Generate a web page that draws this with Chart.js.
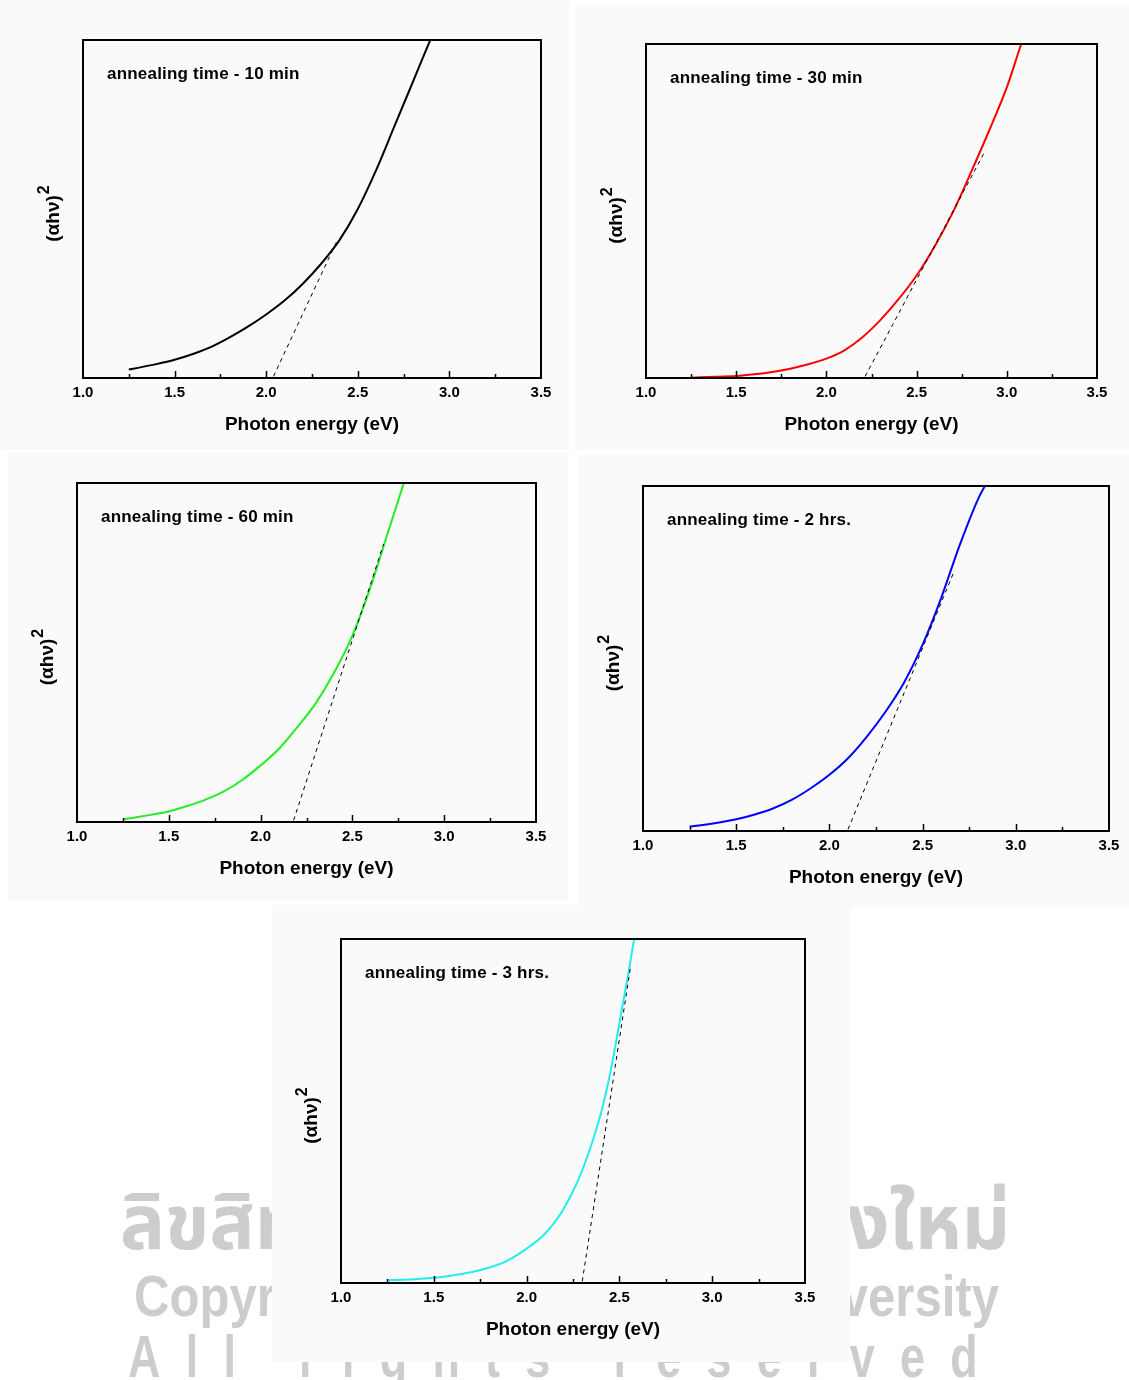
<!DOCTYPE html>
<html>
<head>
<meta charset="utf-8">
<script src="https://cdn.jsdelivr.net/npm/chart.js@4.4.1/dist/chart.umd.min.js"></script>
<style>
  body { margin: 0; background: #fff; }
  #page { position: relative; width: 1129px; height: 1380px; overflow: hidden; font-family: "Liberation Sans", Arial, sans-serif; }
  .wm { position: absolute; color: #cdcdcd; font-weight: bold; white-space: nowrap; transform-origin: 0 0; }
  .bg { position: absolute; background: #fafafa; }
  canvas { position: absolute; }
</style>
</head>
<body>
<div id="page">
  <div class="wm" id="wmThai" style="left:120px;top:1168px;font-size:76px;font-family:'Noto Sans Thai','Noto Sans',sans-serif;">ลิขสิทธิ์มหาวิทยาลัยเชียงใหม่</div>
  <div class="wm" id="wmCopy" style="left:134px;top:1262px;font-size:58px;">Copyright© by Chiang Mai University</div>
  <div class="wm" id="wmAll" style="left:128px;top:1322px;font-size:60px;letter-spacing:34px;">All rights reserved</div>
</div>

<script>
// tick labels of the energy axis
const energyTicks = [1.0, 1.5, 2.0, 2.5, 3.0, 3.5];

// annealing 10 min
const energy10 = [1.25, 1.3, 1.4, 1.5, 1.6, 1.7, 1.8, 1.9, 2.0, 2.1, 2.2, 2.3, 2.4, 2.5, 2.6, 2.7, 2.8, 2.9, 2.93];
const tauc10   = [2.5, 3.0, 4.1, 5.4, 7.1, 9.2, 12.0, 15.2, 18.8, 22.9, 27.9, 33.8, 40.8, 50.0, 61.5, 74.5, 87.5, 100.5, 104];
const fitEnergy10 = [2.04, 2.39];
const fitTauc10   = [0.5, 41];

// annealing 30 min
const energy30 = [1.25, 1.3, 1.4, 1.5, 1.6, 1.7, 1.8, 1.9, 2.0, 2.1, 2.2, 2.3, 2.4, 2.5, 2.6, 2.7, 2.8, 2.9, 3.0, 3.08, 3.1];
const tauc30   = [0.1, 0.2, 0.4, 0.6, 1.1, 1.8, 2.8, 4.1, 5.8, 8.3, 12.2, 17.4, 23.6, 30.7, 39.4, 49.5, 61.4, 73.8, 87, 100, 103];
const fitEnergy30 = [2.215, 2.88];
const fitTauc30   = [0.5, 68];

// annealing 60 min
const energy60 = [1.25, 1.3, 1.4, 1.5, 1.6, 1.7, 1.8, 1.9, 2.0, 2.1, 2.2, 2.3, 2.4, 2.5, 2.6, 2.7, 2.78, 2.8];
const tauc60   = [0.8, 1.2, 2.1, 3.1, 4.7, 6.6, 9.0, 12.4, 16.7, 21.6, 28.0, 35.0, 44.0, 55.0, 69.5, 86.5, 100, 103.5];
const fitEnergy60 = [2.18, 2.67];
const fitTauc60   = [0.5, 82];

// annealing 2 hrs
const energy2h = [1.25, 1.3, 1.4, 1.5, 1.6, 1.7, 1.8, 1.9, 2.0, 2.1, 2.2, 2.3, 2.4, 2.5, 2.6, 2.7, 2.8, 2.85];
const tauc2h   = [1.3, 1.6, 2.4, 3.4, 4.8, 6.6, 9.1, 12.4, 16.3, 21.1, 27.3, 34.5, 43.0, 54.0, 67.6, 83.0, 96.5, 101.5];
const fitEnergy2h = [2.10, 2.667];
const fitTauc2h   = [0.5, 75];

// annealing 3 hrs
const energy3h = [1.25, 1.3, 1.4, 1.5, 1.6, 1.7, 1.8, 1.9, 2.0, 2.1, 2.2, 2.3, 2.4, 2.45, 2.5, 2.55, 2.58, 2.6];
const tauc3h   = [0.8, 0.9, 1.1, 1.5, 2.2, 3.1, 4.5, 6.6, 10.0, 14.4, 21.6, 32.8, 49.3, 60.9, 75.5, 90.5, 100, 104];
const fitEnergy3h = [2.30, 2.56];
const fitTauc3h   = [0.5, 92];

const panelTitles = ['annealing time - 10 min', 'annealing time - 30 min', 'annealing time - 60 min',
                     'annealing time - 2 hrs.', 'annealing time - 3 hrs.'];

// where each plot box sits on the page: left, top, right, bottom
const plotBoxes = [
  [83, 40, 541, 378],
  [646, 44, 1097, 378],
  [77, 483, 536, 822],
  [643, 486, 1109, 831],
  [341, 939, 805, 1283]
];
// light backgrounds behind each pasted figure
const paperBoxes = [
  [0, 0, 570, 450],
  [575, 5, 554, 445],
  [8, 452, 560, 448],
  [578, 455, 551, 452],
  [272, 905, 578, 457]
];
const curveColors = ['#000000', '#ff0000', '#22ee22', '#0000ff', '#22eeee'];

const series = [
  [energy10, tauc10, fitEnergy10, fitTauc10],
  [energy30, tauc30, fitEnergy30, fitTauc30],
  [energy60, tauc60, fitEnergy60, fitTauc60],
  [energy2h, tauc2h, fitEnergy2h, fitTauc2h],
  [energy3h, tauc3h, fitEnergy3h, fitTauc3h]
];

const PAD_L = 70, PAD_T = 10, PAD_R = 25, X_AXIS_H = 62;
const FONT = '"Liberation Sans", Arial, sans-serif';

function toPoints(xs, ys) {
  return xs.map((x, i) => ({ x: x, y: ys[i] }));
}

// frame, inward ticks, y title and the annealing label
const decorations = {
  id: 'decorations',
  afterDatasetsDraw(chart, args, opts) {
    const ctx = chart.ctx;
    const a = chart.chartArea;
    const xs = chart.scales.x;
    ctx.save();
    ctx.strokeStyle = '#000';
    ctx.lineWidth = 1.5;
    for (let v = 1.25; v < 3.5; v += 0.25) {
      const px = Math.round(xs.getPixelForValue(v)) + 0.5;
      const major = Math.abs(v * 2 - Math.round(v * 2)) < 1e-6;
      ctx.beginPath();
      ctx.moveTo(px, a.bottom);
      ctx.lineTo(px, a.bottom - (major ? 7 : 4));
      ctx.stroke();
    }
    ctx.lineWidth = 2;
    ctx.strokeRect(a.left, a.top, a.right - a.left, a.bottom - a.top);

    // (αhν)^2 rotated
    ctx.fillStyle = '#000';
    ctx.translate(a.left, (a.top + a.bottom) / 2 + 5);
    ctx.rotate(-Math.PI / 2);
    ctx.font = 'bold 19px ' + FONT;
    const main = '(\u03b1h\u03bd)';
    const w1 = ctx.measureText(main).width;
    ctx.font = 'bold 16px ' + FONT;
    const w2 = ctx.measureText('2').width;
    const x0 = -(w1 + w2) / 2;
    ctx.textBaseline = 'alphabetic';
    ctx.font = 'bold 19px ' + FONT;
    ctx.fillText(main, x0, -24);
    ctx.font = 'bold 16px ' + FONT;
    ctx.fillText('2', x0 + w1 + 1, -34);
    ctx.restore();

    ctx.save();
    ctx.fillStyle = '#000';
    ctx.font = 'bold 17px ' + FONT;
    ctx.letterSpacing = '0.2px';
    ctx.textBaseline = 'middle';
    ctx.fillText(opts.label, a.left + 24, a.top + 34);
    ctx.restore();
  }
};

const page = document.getElementById('page');

paperBoxes.forEach((b) => {
  const d = document.createElement('div');
  d.className = 'bg';
  d.style.left = b[0] + 'px';
  d.style.top = b[1] + 'px';
  d.style.width = b[2] + 'px';
  d.style.height = b[3] + 'px';
  page.appendChild(d);
});

series.forEach((s, i) => {
  const box = plotBoxes[i];
  const canvas = document.createElement('canvas');
  const w = box[2] - box[0] + PAD_L + PAD_R;
  const h = box[3] - box[1] + PAD_T + X_AXIS_H;
  canvas.width = w;
  canvas.height = h;
  canvas.style.left = (box[0] - PAD_L) + 'px';
  canvas.style.top = (box[1] - PAD_T) + 'px';
  canvas.style.width = w + 'px';
  canvas.style.height = h + 'px';
  page.appendChild(canvas);

  new Chart(canvas.getContext('2d'), {
    type: 'scatter',
    data: {
      datasets: [
        {
          data: toPoints(s[2], s[3]),
          showLine: true,
          borderColor: '#000',
          borderWidth: 1,
          borderDash: [4, 4],
          pointRadius: 0,
          clip: 0
        },
        {
          data: toPoints(s[0], s[1]),
          showLine: true,
          borderColor: curveColors[i],
          borderWidth: 2,
          cubicInterpolationMode: 'monotone',
          pointRadius: 0,
          clip: 0
        }
      ]
    },
    plugins: [decorations],
    options: {
      responsive: false,
      devicePixelRatio: 1,
      animation: false,
      events: [],
      layout: { padding: { left: PAD_L, top: PAD_T, right: PAD_R, bottom: 0 } },
      plugins: {
        legend: { display: false },
        tooltip: { enabled: false },
        decorations: { label: panelTitles[i] }
      },
      scales: {
        x: {
          type: 'linear',
          min: energyTicks[0],
          max: energyTicks[energyTicks.length - 1],
          grid: { display: false, drawTicks: false },
          border: { display: false },
          afterBuildTicks: (scale) => { scale.ticks = energyTicks.map(v => ({ value: v })); },
          afterFit: (scale) => { scale.height = X_AXIS_H; },
          ticks: {
            padding: 6,
            maxRotation: 0,
            color: '#000',
            font: { family: FONT, size: 15, weight: 'bold' },
            callback: (v) => Number(v).toFixed(1)
          },
          title: {
            display: true,
            text: 'Photon energy (eV)',
            color: '#000',
            font: { family: FONT, size: 19, weight: 'bold' },
            padding: { top: 0, bottom: 4 }
          }
        },
        y: { type: 'linear', min: 0, max: 100, display: false }
      }
    }
  });
});

// stretch the watermark lines to their width on the page
function fitWidth(id, target) {
  const el = document.getElementById(id);
  const w = el.getBoundingClientRect().width;
  if (w > 0) el.style.transform = 'scaleX(' + (target / w) + ')';
}
fitWidth('wmThai', 890);
fitWidth('wmCopy', 865);
fitWidth('wmAll', 875);
</script>
</body>
</html>
